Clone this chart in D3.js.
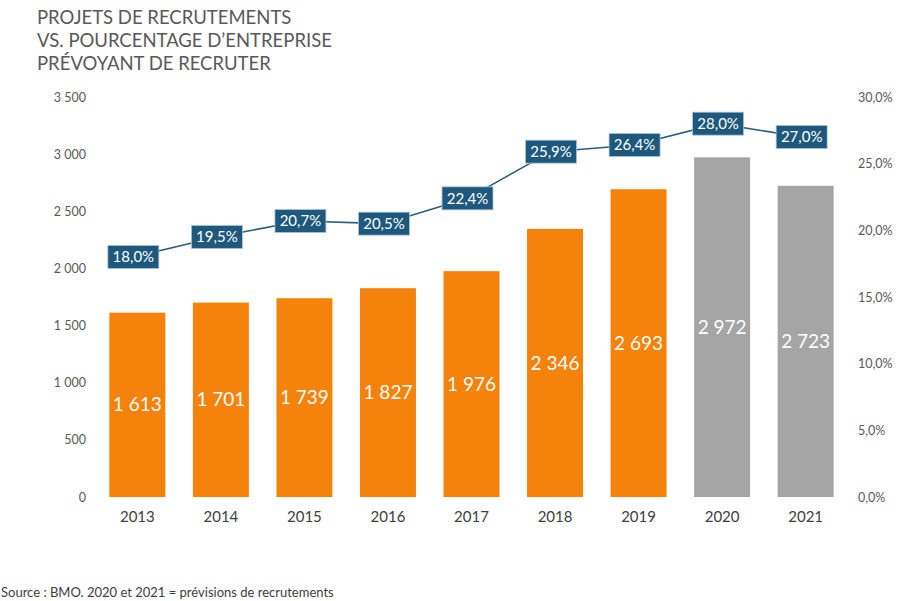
<!DOCTYPE html>
<html><head><meta charset="utf-8">
<script src="https://cdn.jsdelivr.net/npm/d3@7"></script>
<style>body{margin:0;background:#fff;}svg{display:block;font-family:"Lato","Noto Sans",sans-serif;}</style>
</head><body>
<svg id="c" width="906" height="601"></svg>
<script>
const years = ["2013","2014","2015","2016","2017","2018","2019","2020","2021"];
const recrutements = [1613,1701,1739,1827,1976,2346,2693,2972,2723];
const pourcentages = [18.0,19.5,20.7,20.5,22.4,25.9,26.4,28.0,27.0];
const forecastYears = ["2020","2021"];
const leftTicks = [0,500,1000,1500,2000,2500,3000,3500];
const rightTicks = [0,5,10,15,20,25,30];
const titleLines = ["PROJETS DE RECRUTEMENTS","VS. POURCENTAGE D\u2019ENTREPRISE","PR\u00c9VOYANT DE RECRUTER"];
const source = "Source : BMO. 2020 et 2021 = pr\u00e9visions de recrutements";

const svg = d3.select("#c");
const fr = n => d3.format(",")(n).replace(/,/g," ");
const frPct = v => d3.format(".1f")(v).replace(".",",") + "%";

const x = d3.scaleBand().domain(years).range([96,847]).paddingInner(0.33).paddingOuter(0.16);
const yL = d3.scaleLinear().domain([0,3500]).range([497,97]);
const yR = d3.scaleLinear().domain([0,30]).range([497,97]);

// title
svg.append("g").selectAll("text").data(titleLines).join("text")
  .attr("x",37).attr("y",(d,i)=>24+i*23).attr("font-size",18.5).attr("fill","#595959").text(d=>d);

// left axis
const gl = svg.append("g").attr("transform","translate(86,0)")
  .call(d3.axisLeft(yL).tickValues(leftTicks).tickFormat(fr).tickSize(0).tickPadding(0));
gl.select(".domain").remove();
gl.selectAll("text").attr("font-size",12.5).attr("fill","#595959").attr("font-family","Lato,sans-serif");

// right axis
const gr = svg.append("g").attr("transform","translate(858,0)")
  .call(d3.axisRight(yR).tickValues(rightTicks).tickFormat(frPct).tickSize(0).tickPadding(0));
gr.select(".domain").remove();
gr.selectAll("text").attr("font-size",12.5).attr("fill","#595959").attr("font-family","Lato,sans-serif");

// bottom axis
const gb = svg.append("g").attr("transform","translate(0,497)")
  .call(d3.axisBottom(x).tickSize(0).tickPadding(14));
gb.select(".domain").remove();
gb.selectAll("text").attr("font-size",15).attr("fill","#404040").attr("font-family","Lato,sans-serif");

// bars
const data = years.map((y,i)=>({year:y,v:recrutements[i],p:pourcentages[i]}));
svg.append("g").selectAll("rect").data(data).join("rect")
  .attr("x",d=>x(d.year)).attr("width",x.bandwidth())
  .attr("y",d=>yL(d.v)).attr("height",d=>yL(0)-yL(d.v))
  .attr("fill",d=>forecastYears.includes(d.year)?"#a5a5a5":"#f5820b");

svg.append("g").selectAll("text").data(data).join("text")
  .attr("x",d=>x(d.year)+x.bandwidth()/2).attr("y",d=>(yL(d.v)+yL(0))/2)
  .attr("dy","0.35em").attr("text-anchor","middle").attr("font-size",19).attr("fill","#fff")
  .text(d=>fr(d.v));

// line
const cx = d => x(d.year)+x.bandwidth()/2 - 4;
svg.append("path").datum(data)
  .attr("d",d3.line().x(cx).y(d=>yR(d.p)))
  .attr("fill","none").attr("stroke","#2b5d80").attr("stroke-width",1.6);

const lab = svg.append("g").selectAll("g").data(data).join("g")
  .attr("transform",d=>`translate(${cx(d)},${yR(d.p)})`);
lab.append("rect").attr("x",-25.5).attr("y",-11.5).attr("width",51).attr("height",23)
  .attr("fill","#1e587c").attr("stroke","#a9c6dc").attr("stroke-width",0.8);
lab.append("text").attr("text-anchor","middle").attr("dy","0.36em")
  .attr("font-size",15).attr("fill","#fff").text(d=>frPct(d.p));

// source
svg.append("text").attr("x",1).attr("y",597).attr("font-size",13).attr("fill","#404040").text(source);
</script>
</body></html>
